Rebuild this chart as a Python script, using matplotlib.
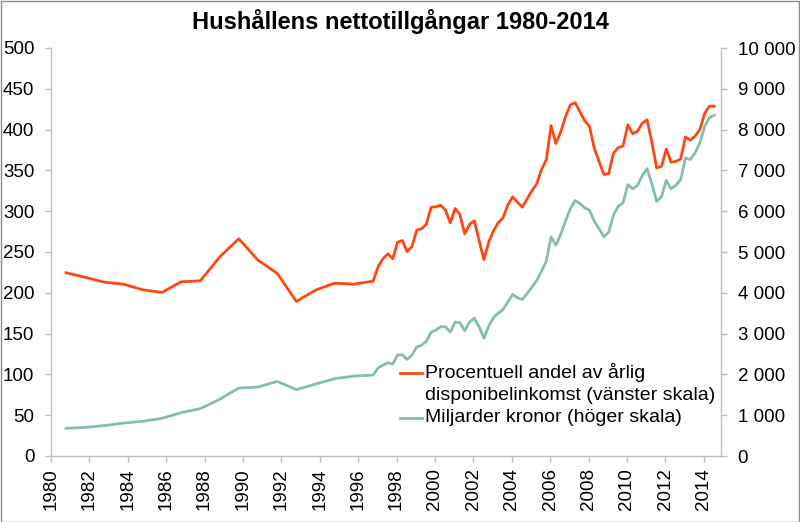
import numpy as np
import matplotlib
matplotlib.use("Agg")
import matplotlib.pyplot as plt
from matplotlib.lines import Line2D
from matplotlib.patches import Rectangle
from matplotlib.ticker import MultipleLocator, FuncFormatter

plt.rcParams['font.family'] = ['Liberation Sans', 'DejaVu Sans']

# ---- data ----
annual_years = list(range(1980, 1997))
annual_pct = [224.6, 219, 213, 210.6, 203.7, 200.4, 213.5, 214.7, 243.7, 266.2,
              240, 224, 189.4, 203.3, 211.8, 210.6, 214.3]
annual_bn = [678, 702, 744, 808, 850, 923, 1063, 1160, 1388, 1665,
             1690, 1829, 1626, 1763, 1896, 1959, 1984]

quarter_start_year = 1997
quarterly_pct = [232.6, 242, 247.8, 241.7,
                 262, 264, 250.6, 256.4,
                 276.7, 278.4, 284, 304.9,
                 305.3, 307.3, 301.2, 285.8,
                 303.3, 296, 272.3, 283.7,
                 288.2, 264, 240.8, 262,
                 276, 286, 292, 308,
                 317.6, 311, 305, 315,
                 325, 333.5, 351, 363,
                 405, 383, 397, 416,
                 430, 433, 422, 411,
                 404, 377, 361, 345,
                 346, 371, 378, 380,
                 406, 395, 398, 408,
                 412, 384, 353, 355,
                 376, 360, 361, 364,
                 391, 387, 392, 400,
                 420, 428.6, 428.6]
quarterly_bn = [2164, 2228, 2287, 2253,
                2474, 2480, 2368, 2474,
                2670, 2718, 2808, 3036,
                3086, 3168, 3168, 3036,
                3281, 3267, 3071, 3281,
                3379, 3168, 2890, 3184,
                3395, 3500, 3592, 3781,
                3960, 3879, 3837, 3984,
                4139, 4302, 4531, 4776,
                5373, 5167, 5429, 5755,
                6058, 6261, 6188, 6082,
                6024, 5755, 5568, 5373,
                5485, 5905, 6122, 6205,
                6653, 6548, 6629, 6874,
                7045, 6670, 6245, 6352,
                6759, 6548, 6637, 6776,
                7307, 7266, 7429, 7674,
                8081, 8302, 8351]

title = "Hushållens nettotillgångar 1980-2014"
label_pct = ["Procentuell andel av årlig", "disponibelinkomst (vänster skala)"]
label_bn = "Miljarder kronor (höger skala)"
xticks = list(range(1980, 2015, 2))

# x positions (decimal years): annual points in Q4, quarterly points at quarter start
x_annual = np.array(annual_years) + 0.78
x_quarter = quarter_start_year + 0.05 + 0.25 * np.arange(len(quarterly_pct))
x_all = np.concatenate([x_annual, x_quarter])
pct_all = np.concatenate([annual_pct, quarterly_pct])
bn_all = np.concatenate([annual_bn, quarterly_bn])

ORANGE = '#FF4713'
GREEN = '#86BEA6'
AXC = '#BFBFBF'
W, H = 800, 522

fig = plt.figure(figsize=(8, 5.22), dpi=100)
ax = fig.add_axes([51 / W, 1 - 456 / H, (721 - 51) / W, (456 - 48) / H])
ax2 = ax.twinx()

ax2.plot(x_all, bn_all, color=GREEN, lw=2.0, solid_joinstyle='round')
ax.plot(x_all, pct_all, color=ORANGE, lw=2.0, solid_joinstyle='round')
ax.set_zorder(ax2.get_zorder() + 1)
ax.patch.set_visible(False)

ax.set_xlim(1980, 2014.9)
ax.set_ylim(0, 500)
ax2.set_ylim(0, 10000)
ax.yaxis.set_major_locator(MultipleLocator(50))
ax2.yaxis.set_major_locator(MultipleLocator(1000))
ax2.yaxis.set_major_formatter(FuncFormatter(lambda v, p: f"{int(v):,}".replace(",", " ")))
ax.set_xticks(xticks)
ax.set_xticklabels([str(y) for y in xticks], rotation=90)

for a in (ax, ax2):
    for s in a.spines.values():
        s.set_color(AXC)
        s.set_linewidth(1.0)
    a.spines['top'].set_visible(False)
    a.tick_params(colors=AXC, labelcolor='black', labelsize=13.5, length=4, width=1.0)
ax.spines['right'].set_visible(False)
ax2.spines['left'].set_visible(False)
ax2.spines['bottom'].set_visible(False)
ax.tick_params(axis='y', pad=8)
ax2.tick_params(axis='y', pad=8)
ax.tick_params(axis='x', pad=5)

fig.text(400 / W, 1 - 22 / H, title, ha='center', va='center',
         fontsize=17, fontweight='bold')

# legend (manual)
def fy(py):
    return 1 - py / H

fig.add_artist(Line2D([400 / W, 422 / W], [fy(373), fy(373)], color=ORANGE, lw=2.0,
                      transform=fig.transFigure))
fig.add_artist(Line2D([400 / W, 422 / W], [fy(418), fy(418)], color=GREEN, lw=2.0,
                      transform=fig.transFigure))
fig.text(425 / W, fy(373), label_pct[0], ha='left', va='center', fontsize=14)
fig.text(425 / W, fy(396), label_pct[1], ha='left', va='center', fontsize=14)
fig.text(425 / W, fy(418), label_bn, ha='left', va='center', fontsize=14)

# outer frame
fig.add_artist(Rectangle((0.5 / W, 0.5 / H), 1 - 1.5 / W, 1 - 1.5 / H, fill=False,
                         edgecolor='#8C8C8C', lw=1.0, transform=fig.transFigure))

fig.savefig('out.png', dpi=100)
